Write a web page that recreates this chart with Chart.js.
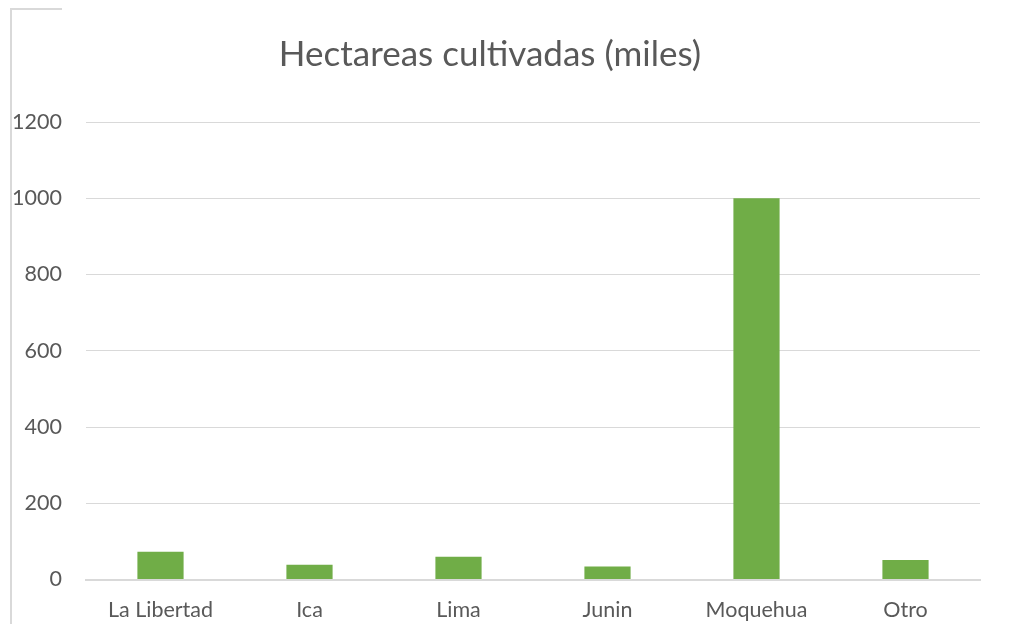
<!DOCTYPE html>
<html>
<head>
<meta charset="utf-8">
<script src="https://cdn.jsdelivr.net/npm/chart.js@4"></script>
<style>
  html, body { margin: 0; padding: 0; background: #fff; }
  #wrap { position: relative; width: 1017px; height: 624px; }
  .frame-left { position: absolute; left: 10px; top: 8px; width: 2px; height: 616px; background: #d9d9d9; }
  .frame-top { position: absolute; left: 10px; top: 8px; width: 52px; height: 2px; background: #d9d9d9; }
</style>
</head>
<body>
<div id="wrap">
  <canvas id="chart" width="1017" height="624"></canvas>
  <div class="frame-left"></div>
  <div class="frame-top"></div>
</div>
<script>
// ---------------- Data ----------------
const regions = ['La Libertad', 'Ica', 'Lima', 'Junin', 'Moquehua', 'Otro'];
const hectares = [73, 39, 60, 34, 1000, 51];
const yTicks = [0, 200, 400, 600, 800, 1000, 1200];

const textColor = '#595959';
const gridColor = '#d9d9d9';
const fontFamily = 'Lato, "Open Sans", sans-serif';

// ---------------- Chart ----------------
new Chart(document.getElementById('chart'), {
    type: 'bar',
    data: {
        labels: regions,
        datasets: [{
            label: 'Hectareas cultivadas (miles)',
            data: hectares,
            backgroundColor: '#70ad47',
            barPercentage: 0.62,
            categoryPercentage: 0.5
        }]
    },
    options: {
        responsive: false,
        animation: false,
        layout: { padding: { left: 0, right: 37, top: 0, bottom: 0 } },
        plugins: {
            legend: { display: false },
            tooltip: { enabled: false },
            title: {
                display: true,
                text: 'Hectareas cultivadas (miles)',
                color: textColor,
                font: { family: fontFamily, size: 35, weight: 'normal', lineHeight: 1.2 },
                padding: { top: 34, bottom: 46 }
            }
        },
        scales: {
            x: {
                grid: { display: false, drawTicks: false },
                border: { color: gridColor, width: 2 },
                ticks: { color: textColor, font: { family: fontFamily, size: 21.5 }, padding: 18 },
                afterFit: s => { s.height = 44.5; }
            },
            y: {
                min: 0,
                max: 1200,
                afterBuildTicks: s => { s.ticks = yTicks.map(v => ({ value: v })); },
                grid: { color: gridColor, lineWidth: 1, drawTicks: false },
                border: { display: false },
                ticks: {
                    color: textColor,
                    font: { family: fontFamily, size: 21.5 },
                    padding: 24,
                    callback: v => String(v)
                },
                afterFit: s => { s.width = 86; }
            }
        }
    }
});
</script>
</body>
</html>
